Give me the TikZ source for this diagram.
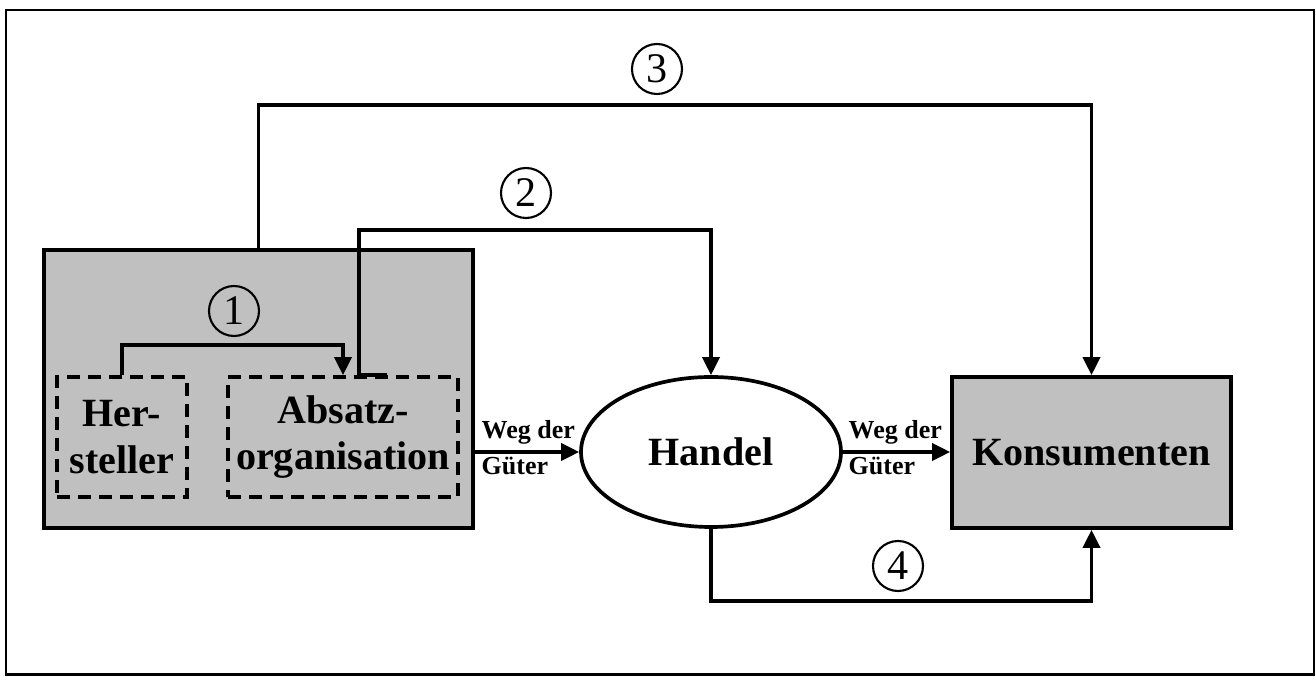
\documentclass[tikz,border=0pt]{standalone}
\usepackage{fontspec}
\setmainfont{Liberation Serif}
\usepackage{xcolor}
\usepackage{tikz}
\usetikzlibrary{arrows.meta,positioning,shapes.geometric,calc}
\definecolor{boxGrey}{HTML}{C0C0C0}

\begin{document}
\begin{tikzpicture}[
    box/.style={draw, line width=2.1pt, fill=boxGrey, align=center, inner sep=0pt},
    teil/.style={draw, line width=2.1pt, dash pattern=on 0.26cm off 0.16cm, align=center, inner sep=0pt},
    oval/.style={draw, ellipse, line width=2.1pt, fill=white, inner sep=0pt},
    big/.style={font=\fontsize{22.8}{26.7}\selectfont\bfseries},
    weg/.style={font=\fontsize{14.8}{16}\selectfont\bfseries, inner sep=0pt, anchor=base west},
    nummer/.style={draw, circle, line width=1.2pt, minimum size=1.0cm, inner sep=0pt, font=\fontsize{24}{26}\selectfont},
    arrow/.style={-{Triangle[length=0.36cm, width=0.34cm]}, line width=2.1pt}
]
\useasboundingbox (0,0) rectangle (26.32,13.54);
\draw[line width=1.2pt] (0.12,13.34) rectangle (26.28,0.05);

\node[box, minimum width=8.58cm, minimum height=5.56cm] (anbieter) at (5.17,5.76) {};
\node[teil, big, minimum width=2.6cm, minimum height=2.4cm] (hersteller) at (2.44,4.80) {Her-\\steller};
\node[teil, big, minimum width=4.6cm, minimum height=2.4cm] (absatz) at (6.86,4.80) {Absatz-\\organisation};

\node[oval, big, minimum width=5.2cm, minimum height=3.0cm] (handel) at (14.22,4.50) {Handel};
\node[box, big, minimum width=5.58cm, minimum height=3.02cm] (konsumenten) at (21.83,4.49) {Konsumenten};

\node[nummer] (nr1) at (4.68,7.32) {1};
\node[nummer] (nr2) at (10.52,9.68) {2};
\node[nummer] (nr3) at (13.14,12.16) {3};
\node[nummer] (nr4) at (17.96,2.22) {4};

\coordinate (start2) at ($(absatz.north)+(0.88,0)$);

% Absatzwege
\draw[arrow] (hersteller.north) -- ++(0,0.6) -| (absatz.north);
\draw[arrow] (start2) -- ++(-0.56,0) -- ++(0,2.9) -| (handel.north);
\draw[arrow] (anbieter.north) -- ++(0,2.86) -| (konsumenten.north);
\draw[arrow] (handel.south) -- ++(0,-1.44) -| (konsumenten.south);

% Weg der Gueter
\draw[arrow] (anbieter.east |- handel.west) -- (handel.west)
    node[weg, pos=0, xshift=0.1cm, yshift=0.26cm] {Weg der}
    node[weg, pos=0, xshift=0.1cm, yshift=-0.46cm] {Güter};
\draw[arrow] (handel.east) -- (konsumenten.west |- handel.east)
    node[weg, pos=0, xshift=0.08cm, yshift=0.26cm] {Weg der}
    node[weg, pos=0, xshift=0.08cm, yshift=-0.46cm] {Güter};

\end{tikzpicture}
\end{document}
